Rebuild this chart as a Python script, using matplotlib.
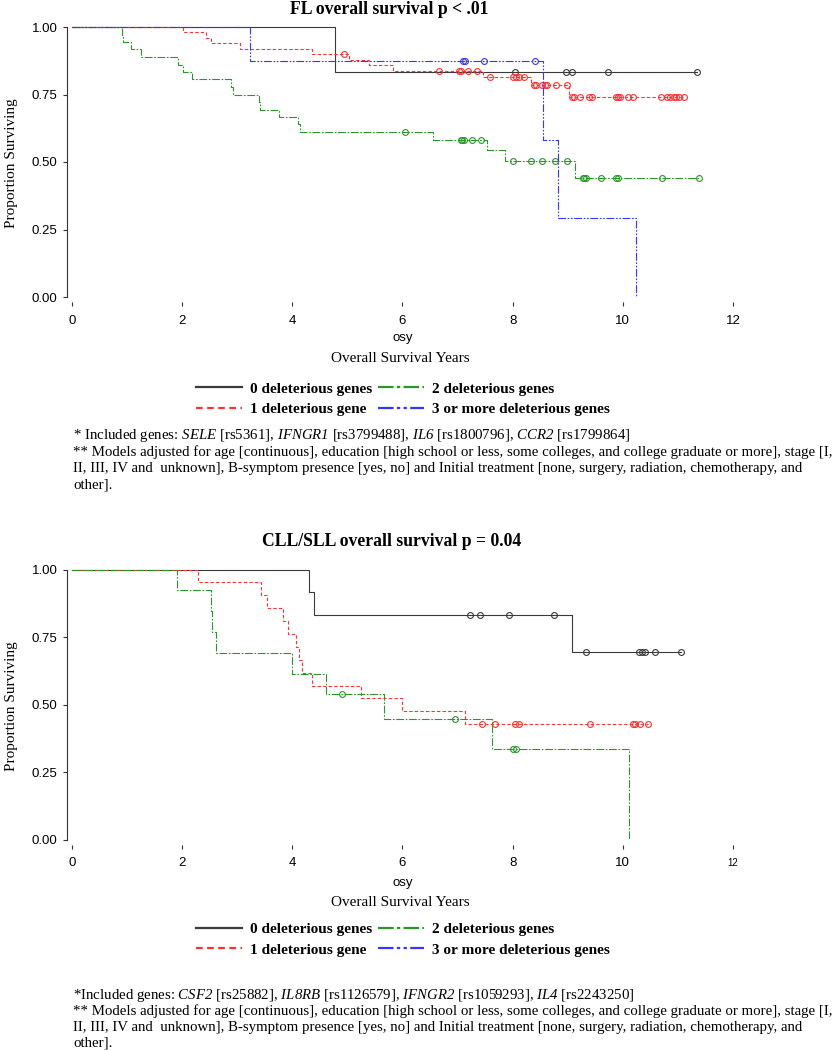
import numpy as np
import matplotlib.pyplot as plt
from matplotlib.lines import Line2D

plt.rcParams.update({
    'font.family': 'serif',
    'font.serif': ['Liberation Serif', 'DejaVu Serif'],
    'font.sans-serif': ['Liberation Sans', 'DejaVu Sans'],
    # gene names are written as $\mathrm{...}$ so digits come out italic too
    'mathtext.fontset': 'custom',
    'mathtext.rm': 'Liberation Serif:italic',
    'mathtext.it': 'Liberation Serif:italic',
    'mathtext.bf': 'Liberation Serif:bold',
})

GROUP_LABELS = ['0 deleterious genes', '1 deleterious gene',
                '2 deleterious genes', '3 or more deleterious genes']
COLORS = ['#3a3a3a', '#ff3030', '#2a962a', '#3535ff']
STYLES = ['-', (0, (3, 2)), (0, (7, 1.5, 1.5, 1.5)),
          (0, (7, 1.5, 1.5, 1.5, 1.5, 1.5))]

# ---- FL panel ----
fl_x0 = [0, 4.77, 11.35]
fl_y0 = [1, 0.833, 0.833]
fl_c0 = [8.04, 8.97, 9.07, 9.73, 11.35]

fl_x1 = [0, 2.01, 2.43, 2.53, 3.05, 4.36, 5.02, 5.40, 5.83, 7.47, 8.34, 9.03, 11.11]
fl_y1 = [1, 0.980, 0.960, 0.939, 0.918, 0.899, 0.878, 0.858, 0.838, 0.814,
         0.785, 0.742, 0.742]
fl_c1 = [4.94, 6.67, 7.02, 7.06, 7.19, 7.36, 7.59, 8.00, 8.06, 8.12, 8.21,
         8.39, 8.42, 8.54, 8.58, 8.63, 8.78, 8.98, 9.07, 9.11, 9.22, 9.39,
         9.44, 9.87, 9.92, 9.95, 10.10, 10.19, 10.70, 10.80, 10.85, 10.93,
         10.97, 11.02, 11.11]

fl_x2 = [0, 0.90, 0.93, 1.08, 1.26, 1.92, 2.01, 2.18, 2.89, 2.93, 3.39, 3.42,
         3.76, 4.10, 4.14, 6.55, 7.54, 7.87, 9.14, 11.39]
fl_y2 = [1, 0.972, 0.944, 0.917, 0.889, 0.861, 0.833, 0.806, 0.778, 0.750,
         0.722, 0.694, 0.667, 0.639, 0.611, 0.583, 0.544, 0.504, 0.441, 0.441]
fl_c2 = [6.04, 7.06, 7.08, 7.11, 7.27, 7.43, 8.00, 8.34, 8.54, 8.77, 8.98,
         9.27, 9.30, 9.33, 9.60, 9.88, 9.92, 10.72, 11.39]

fl_x3 = [0, 3.23, 8.55, 8.82, 10.24]
fl_y3 = [1, 0.875, 0.583, 0.292, 0.0]
fl_c3 = [7.09, 7.13, 7.48, 8.40]

# ---- CLL/SLL panel ----
cll_x0 = [0, 4.30, 4.39, 9.08, 11.06]
cll_y0 = [1, 0.917, 0.833, 0.694, 0.694]
cll_c0 = [7.22, 7.40, 7.93, 8.75, 9.34, 10.29, 10.34, 10.41, 10.58, 11.06]

cll_x1 = [0, 2.29, 3.44, 3.54, 3.83, 3.92, 4.07, 4.12, 4.18, 4.35, 5.24,
          5.99, 7.13, 10.46]
cll_y1 = [1, 0.952, 0.905, 0.857, 0.810, 0.762, 0.714, 0.667, 0.619, 0.571,
          0.524, 0.476, 0.429, 0.429]
cll_c1 = [7.44, 7.68, 8.04, 8.11, 9.40, 10.19, 10.22, 10.31, 10.46]

cll_x2 = [0, 1.90, 2.52, 2.54, 2.61, 4.00, 4.62, 5.66, 7.63, 10.11]
cll_y2 = [1, 0.923, 0.846, 0.769, 0.692, 0.615, 0.538, 0.449, 0.337, 0.0]
cll_c2 = [4.91, 6.96, 8.01, 8.06]

X_TICKS = [0, 2, 4, 6, 8, 10, 12]
Y_TICKS = [0.00, 0.25, 0.50, 0.75, 1.00]
Y_TICKLABELS = ['0.00', '0.25', '0.50', '0.75', '1.00']

FL_NOTES = [
    '* Included genes: $\\mathrm{SELE}$ [rs5361], $\\mathrm{IFNGR1}$ [rs3799488], '
    '$\\mathrm{IL6}$ [rs1800796], $\\mathrm{CCR2}$ [rs1799864]',
    '** Models adjusted for age [continuous], education [high school or less, '
    'some colleges, and college graduate or more], stage [I,',
    'II, III, IV and  unknown], B-symptom presence [yes, no] and Initial '
    'treatment [none, surgery, radiation, chemotherapy, and',
    'other].',
]
CLL_NOTES = [
    '*Included genes: $\\mathrm{CSF2}$ [rs25882], $\\mathrm{IL8RB}$ [rs1126579], '
    '$\\mathrm{IFNGR2}$ [rs1059293], $\\mathrm{IL4}$ [rs2243250]',
] + FL_NOTES[1:]

W, H = 840, 1050
fig = plt.figure(figsize=(W / 100, H / 100), dpi=100)


def px_axes(left, right, top, bottom):
    return fig.add_axes([left / W, 1 - bottom / H, (right - left) / W,
                         (bottom - top) / H])


def draw_panel(ax, curves):
    for (sx, sy, cx), color, ls in zip(curves, COLORS, STYLES):
        sx = np.asarray(sx)
        sy = np.asarray(sy)
        ax.step(sx, sy, where='post', color=color, linestyle=ls, lw=0.8)
        idx = np.searchsorted(sx, cx, side='right') - 1
        ax.plot(cx, sy[idx], linestyle='none', marker='o', ms=4.2,
                mfc='none', mec=color, mew=0.8)
    # pixel scale: x 0 -> 72px, 12 -> 733px ; y 270px per unit
    ax.set_xlim((66.7 - 72) / 55.08, (740 - 72) / 55.08)
    ax.set_ylim(-5 / 270, 1 + 2 / 270)
    for s in ['top', 'right', 'bottom']:
        ax.spines[s].set_visible(False)
    ax.spines['left'].set_bounds(0, 1)
    ax.spines['left'].set_color('#333333')
    ax.set_xticks(X_TICKS)
    ax.set_yticks(Y_TICKS)
    ax.set_yticklabels(Y_TICKLABELS)
    ax.tick_params(axis='x', length=3, width=0.8, pad=6, color='#333333')
    ax.tick_params(axis='y', length=3, width=0.8, pad=3.5, color='#333333')
    for lab in ax.get_xticklabels() + ax.get_yticklabels():
        lab.set_family('sans-serif')
        lab.set_fontsize(9.5)
    ax.set_ylabel('Proportion Surviving', fontsize=11)
    ax.yaxis.set_label_coords((18 - 66.7) / 673.3, 0.5)


def legend_block(ycenter):
    handles = [Line2D([], [], color=c, linestyle=ls, lw=1.6)
               for c, ls in zip(COLORS, STYLES)]
    fig.legend(handles, GROUP_LABELS, ncol=2, loc='center',
               bbox_to_anchor=(403 / W, 1 - ycenter / H), frameon=False,
               prop={'weight': 'bold', 'size': 11}, handlelength=3.0,
               handletextpad=0.5, columnspacing=0.4, labelspacing=0.45,
               borderpad=0, borderaxespad=0)


def notes_block(lines, ytop, step):
    for i, line in enumerate(lines):
        fig.text(73 / W, 1 - (ytop + i * step) / H, line, fontsize=10.7,
                 ha='left', va='center')


# ---- top: FL ----
ax1 = px_axes(66.7, 740, 25, 302)
draw_panel(ax1, [(fl_x0, fl_y0, fl_c0), (fl_x1, fl_y1, fl_c1),
                 (fl_x2, fl_y2, fl_c2), (fl_x3, fl_y3, fl_c3)])
fig.text(389 / W, 1 - 9 / H, 'FL overall survival p < .01', fontsize=12.7,
         fontweight='bold', ha='center', va='center')
fig.text(403 / W, 1 - 338 / H, 'osy', family='sans-serif', fontsize=9.5,
         ha='center', va='center')
fig.text(400 / W, 1 - 359 / H, 'Overall Survival Years', fontsize=11,
         ha='center', va='center')
legend_block(399)
notes_block(FL_NOTES, 436, 16.4)

# ---- bottom: CLL/SLL ----
ax2 = px_axes(66.7, 740, 567.5, 845)
draw_panel(ax2, [(cll_x0, cll_y0, cll_c0), (cll_x1, cll_y1, cll_c1),
                 (cll_x2, cll_y2, cll_c2)])
ax2.get_xticklabels()[-1].set_fontsize(7)
fig.text(392 / W, 1 - 541 / H, 'CLL/SLL overall survival p = 0.04',
         fontsize=12.7, fontweight='bold', ha='center', va='center')
fig.text(403 / W, 1 - 883 / H, 'osy', family='sans-serif', fontsize=9.5,
         ha='center', va='center')
fig.text(400 / W, 1 - 903 / H, 'Overall Survival Years', fontsize=11,
         ha='center', va='center')
legend_block(939.5)
notes_block(CLL_NOTES, 995, 16)

fig.savefig('out.png', dpi=100, facecolor='white')
